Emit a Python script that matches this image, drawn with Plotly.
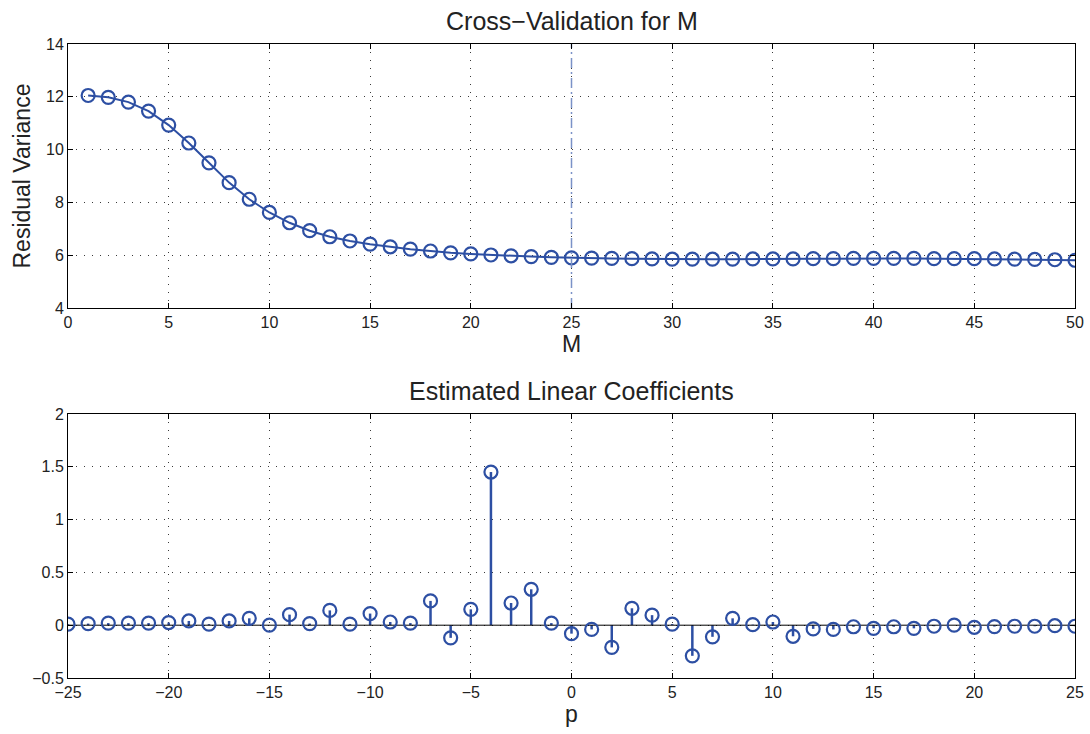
import plotly.graph_objects as go
from plotly.subplots import make_subplots

# Cross-validation residual variance for each model order M
M = list(range(1, 51))
resid_var = [12.05, 11.98, 11.8, 11.46, 10.93, 10.25, 9.5, 8.75, 8.12, 7.62,
             7.23, 6.93, 6.7, 6.54, 6.42, 6.32, 6.23, 6.16, 6.09, 6.05,
             6.01, 5.98, 5.95, 5.92, 5.9, 5.89, 5.88, 5.87, 5.86, 5.85,
             5.85, 5.85, 5.85, 5.86, 5.86, 5.86, 5.87, 5.87, 5.88, 5.88,
             5.88, 5.88, 5.87, 5.87, 5.87, 5.86, 5.85, 5.84, 5.83, 5.81]
M_selected = 25

# Estimated linear coefficients for lags p = -25..25
p = list(range(-25, 26))
coef = [0.01, 0.015, 0.02, 0.02, 0.02, 0.025, 0.04, 0.01, 0.04, 0.065,
        0.0, 0.1, 0.015, 0.14, 0.01, 0.11, 0.03, 0.02, 0.23, -0.12,
        0.15, 1.45, 0.21, 0.34, 0.02, -0.08, -0.04, -0.21, 0.16, 0.095,
        0.01, -0.29, -0.11, 0.065, 0.005, 0.03, -0.105, -0.035, -0.04, -0.015,
        -0.03, -0.015, -0.03, -0.01, 0.0, -0.02, -0.013, -0.01, -0.01, -0.005,
        -0.01]

BLUE = "#2d4fa3"
TEXT = "#222222"
FONT = "Liberation Sans, Arial, sans-serif"

fig = make_subplots(rows=2, cols=1, vertical_spacing=0.167)

marker = dict(symbol="circle-open", size=13, color=BLUE, line=dict(width=2.2, color=BLUE))

fig.add_trace(go.Scatter(x=M, y=resid_var, mode="lines+markers",
                         line=dict(color=BLUE, width=2), marker=marker,
                         showlegend=False), row=1, col=1)
fig.add_trace(go.Scatter(x=[M_selected, M_selected], y=[4, 14], mode="lines",
                         line=dict(color="#7b92c8", width=1.5, dash="10px,4px,2px,4px"),
                         showlegend=False), row=1, col=1)

# stems from the baseline to each coefficient
sx, sy = [], []
for xi, yi in zip(p, coef):
    sx += [xi, xi, None]
    sy += [0, yi, None]
fig.add_trace(go.Scatter(x=sx, y=sy, mode="lines", line=dict(color=BLUE, width=2.5),
                         showlegend=False, hoverinfo="skip"), row=2, col=1)
fig.add_trace(go.Scatter(x=[-25, 25], y=[0, 0], mode="lines",
                         line=dict(color="black", width=1), showlegend=False,
                         hoverinfo="skip"), row=2, col=1)
fig.add_trace(go.Scatter(x=p, y=coef, mode="markers", marker=marker,
                         showlegend=False), row=2, col=1)

axis_common = dict(showline=True, linecolor="black", linewidth=1, mirror="ticks",
                   ticks="inside", ticklen=5, tickcolor="black", automargin=False,
                   showgrid=True, gridcolor="#3a3a3a", griddash="1px,7px", gridwidth=1,
                   zeroline=False, tickfont=dict(family=FONT, size=16, color=TEXT))

fig.update_xaxes(axis_common)
fig.update_yaxes(axis_common)

label_font = dict(family=FONT, size=23, color=TEXT)
fig.update_xaxes(range=[0, 50], tickvals=list(range(0, 51, 5)),
                 title=dict(text="M", font=label_font, standoff=4), row=1, col=1)
fig.update_yaxes(range=[4, 14], tickvals=list(range(4, 15, 2)),
                 title=dict(text="Residual Variance", font=label_font, standoff=8),
                 row=1, col=1)
fig.update_xaxes(range=[-25, 25], tickvals=list(range(-25, 26, 5)),
                 title=dict(text="p", font=label_font, standoff=2), row=2, col=1)
fig.update_yaxes(range=[-0.5, 2], tickvals=[-0.5, 0, 0.5, 1, 1.5, 2],
                 ticktext=["\u22120.5", "0", "0.5", "1", "1.5", "2"], row=2, col=1)

title_font = dict(family=FONT, size=25, color=TEXT)
fig.update_layout(
    width=1090, height=734,
    margin=dict(l=68, r=15, t=44, b=56),
    paper_bgcolor="white", plot_bgcolor="white",
    font=dict(family=FONT, color=TEXT),
    annotations=[
        dict(text="Cross\u2212Validation for M", xref="x domain", yref="y domain",
             x=0.5, y=1, yanchor="bottom", yshift=7, showarrow=False, font=title_font),
        dict(text="Estimated Linear Coefficients", xref="x2 domain", yref="y2 domain",
             x=0.5, y=1, yanchor="bottom", yshift=7, showarrow=False, font=title_font),
    ],
)

fig.write_html("out.html")
